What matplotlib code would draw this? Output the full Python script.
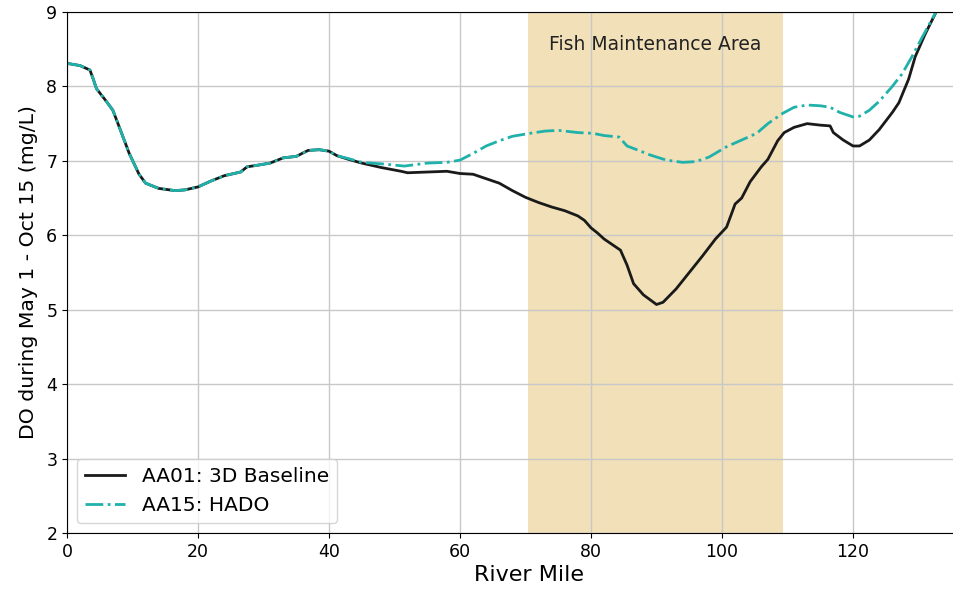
import numpy as np
import matplotlib.pyplot as plt

# river mile / DO profiles, shared upstream reach
shared_x = [0, 2, 3.5, 4, 4.5, 6, 7, 8, 9.5, 11, 12, 14, 16.5, 18, 20, 22, 24,
            26.5, 27.5, 29, 31, 33, 35, 36.8, 38.5, 40, 41.2]
shared_y = [8.31, 8.28, 8.22, 8.10, 7.97, 7.80, 7.68, 7.45, 7.10, 6.82, 6.70,
            6.63, 6.60, 6.61, 6.65, 6.73, 6.80, 6.85, 6.92, 6.94, 6.97, 7.04,
            7.06, 7.14, 7.15, 7.13, 7.07]

base_x = [43, 45, 48, 51, 52, 55, 58, 60, 62, 64, 66, 68, 70, 72, 74, 76, 78,
          79, 80, 81, 82, 83.5, 84.5, 85.5, 86.5, 88, 90, 91, 93, 95, 97, 99,
          100.7, 101.5, 102, 103, 104.3, 106, 107, 108.5, 109.5, 111, 113, 115,
          116.5, 117, 118.5, 120, 121, 122.5, 124, 126, 127, 128.5, 129.5, 131,
          132.8, 133.5]
base_y = [7.02, 6.97, 6.91, 6.86, 6.84, 6.85, 6.86, 6.83, 6.82, 6.76, 6.70,
          6.60, 6.51, 6.44, 6.38, 6.33, 6.26, 6.20, 6.10, 6.03, 5.95, 5.86,
          5.80, 5.60, 5.35, 5.20, 5.07, 5.10, 5.28, 5.50, 5.72, 5.95, 6.11,
          6.30, 6.42, 6.50, 6.72, 6.92, 7.02, 7.27, 7.38, 7.45, 7.50, 7.48,
          7.47, 7.38, 7.28, 7.20, 7.20, 7.28, 7.42, 7.65, 7.78, 8.10, 8.40,
          8.70, 9.02, 9.15]

hado_x = [43, 45, 48, 51.5, 55, 58, 60, 62, 64, 66, 68, 70.7, 73, 75, 78, 80.3,
          82, 84.3, 85.5, 87, 89, 91.5, 94, 96, 98, 100.7, 103, 105.3, 107,
          109.3, 111, 113, 115, 116.5, 118, 120, 121, 122.5, 124, 126, 127.5,
          129, 130.5, 132.8, 133.5]
hado_y = [7.03, 6.98, 6.96, 6.93, 6.97, 6.98, 7.01, 7.10, 7.20, 7.27, 7.33,
          7.37, 7.40, 7.41, 7.38, 7.37, 7.34, 7.32, 7.20, 7.15, 7.08, 7.01,
          6.98, 6.99, 7.05, 7.19, 7.28, 7.37, 7.50, 7.64, 7.72, 7.75, 7.74,
          7.72, 7.65, 7.59, 7.60, 7.68, 7.80, 8.00, 8.17, 8.40, 8.65, 9.02, 9.15]

fma_start, fma_end = 70.4, 109.3

fig = plt.figure(figsize=(9.54, 5.94), dpi=100)
ax = fig.add_axes([67/954, 61/594, (990-67)/954, 521/594])

ax.axvspan(fma_start, fma_end, color='#f1e0b8', lw=0)
ax.plot(shared_x + base_x, shared_y + base_y, color='#1a1a1a', lw=2,
        label='AA01: 3D Baseline')
ax.plot(shared_x + hado_x, shared_y + hado_y, color='#20b2aa', lw=2,
        ls='-.', label='AA15: HADO')

ax.text((fma_start + fma_end) / 2, 8.57, 'Fish Maintenance Area',
        ha='center', va='center', fontsize=13.5, color='#222222')

ax.set_xlim(0, (990-67)/6.55)
ax.set_ylim(2, 9)
ax.set_xticks([0, 20, 40, 60, 80, 100, 120])
ax.set_yticks(range(2, 10))
ax.tick_params(labelsize=12.5)
ax.spines['right'].set_visible(False)
ax.grid(True, color='#c8c8c8', lw=1)
ax.set_xlabel('River Mile', fontsize=16, labelpad=3)
ax.set_ylabel('DO during May 1 - Oct 15 (mg/L)', fontsize=14.7, labelpad=6)
ax.legend(loc='lower left', fontsize=14.5, borderaxespad=0.5)

fig.savefig('out.png', dpi=100)
